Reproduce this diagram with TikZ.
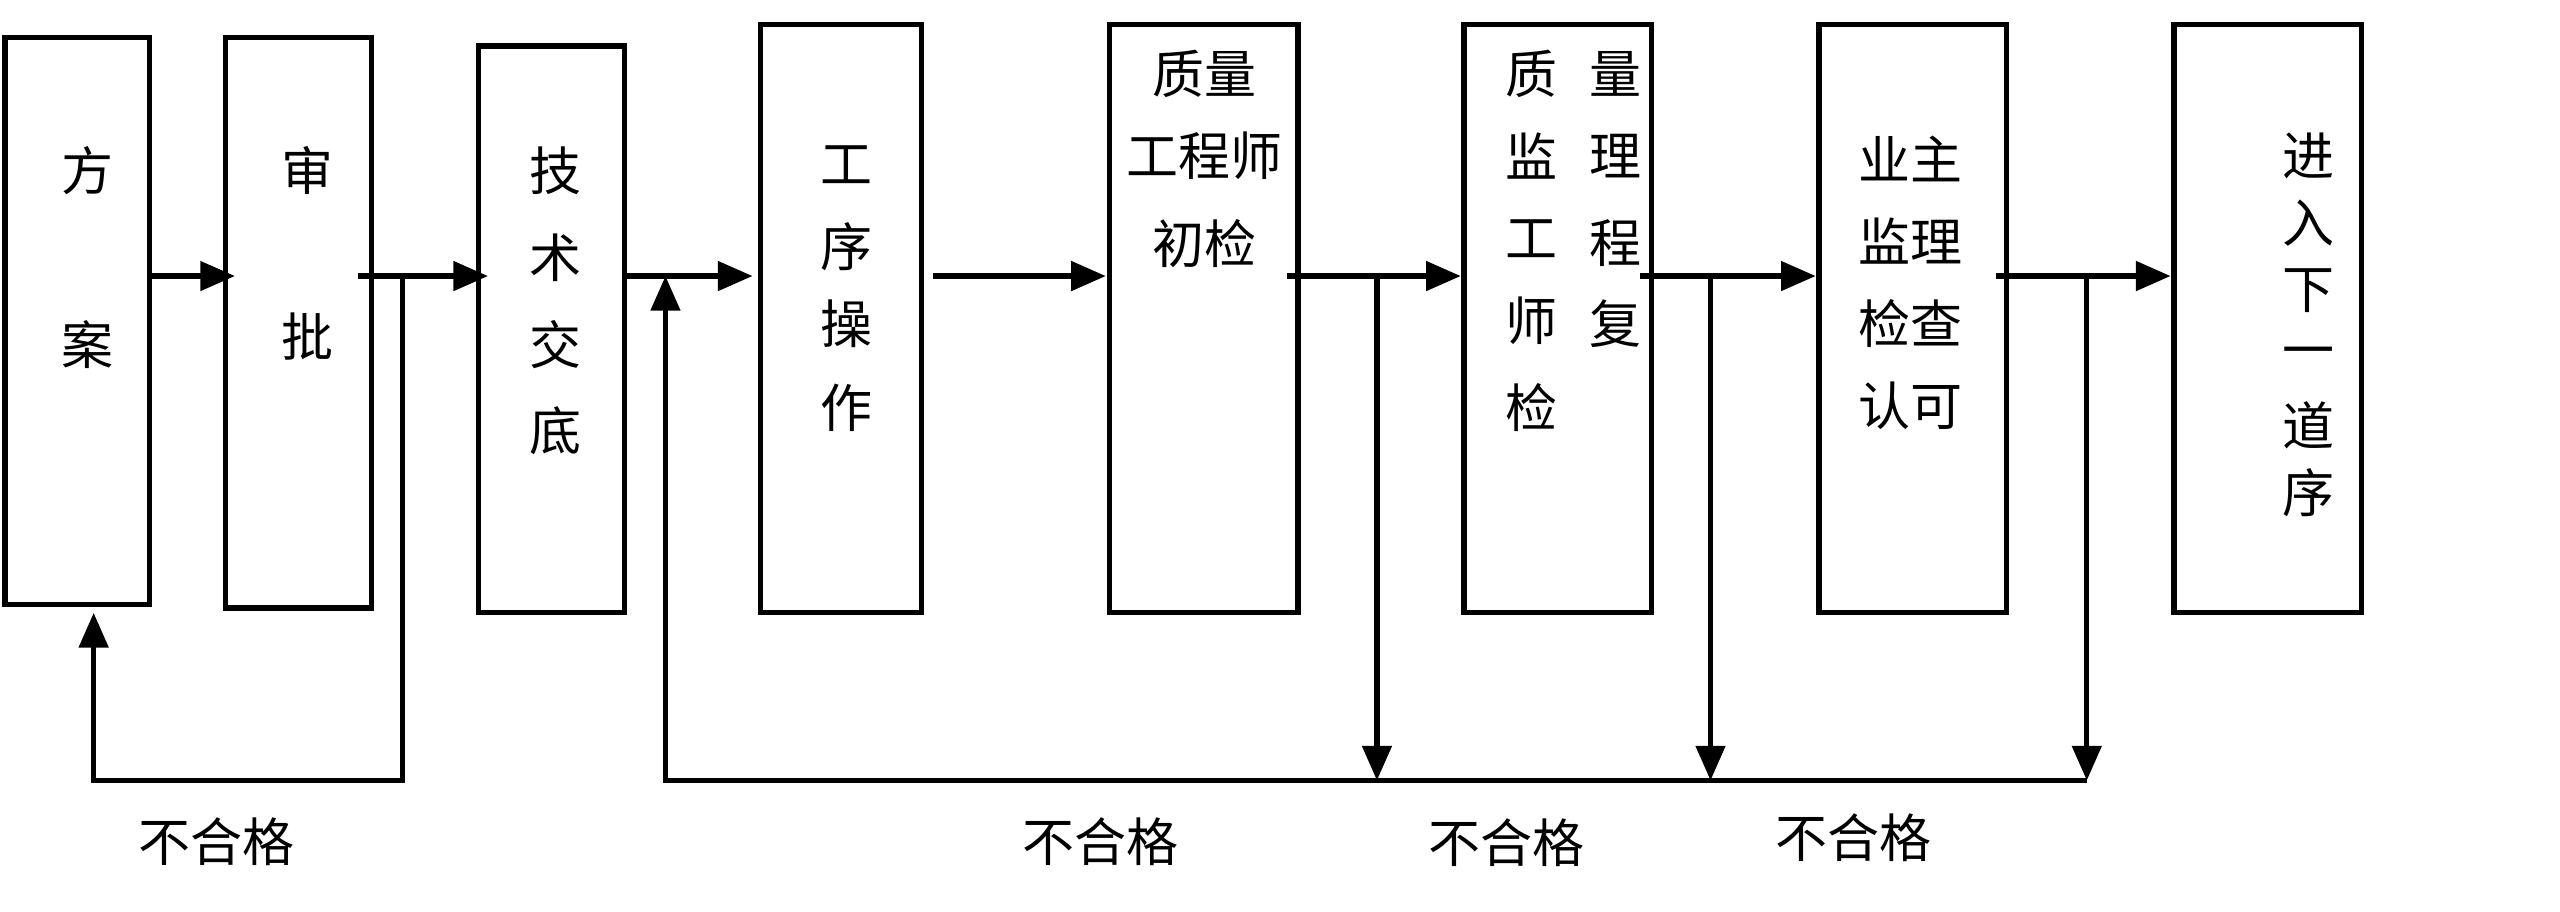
\documentclass[tikz,border=0pt]{standalone}
\usepackage{fontspec}
\setmainfont{Noto Sans CJK SC}
\usetikzlibrary{arrows.meta}
\begin{document}
\begin{tikzpicture}[x=0.01cm,y=-0.01cm,
  box/.style={draw,line width=0.9pt,minimum width=0,anchor=north west},
  t/.style={font=\fontsize{9pt}{10pt}\selectfont,inner sep=0},
  ln/.style={line width=0.9pt},
  ar/.style={line width=0.9pt,-{Triangle[length=6pt,width=5pt]}}]
\useasboundingbox (0,0) rectangle (1558,555);
\draw[ln] (3,23) rectangle (91,368) coordinate (b1);
\draw[ln] (137,23) rectangle (226,370);
\draw[ln] (291,28) rectangle (380,373);
\draw[ln] (463,15) rectangle (561,373);
\draw[ln] (675,15) rectangle (790,373);
\draw[ln] (891,15) rectangle (1005,373);
\draw[ln] (1107,15) rectangle (1221,373);
\draw[ln] (1323,15) rectangle (1437,373);
% texts
\node[t] (a1) at (53,104) {方}; \node[t] at (53,210) {案};
\node[t] at (187,104) {审}; \node[t] at (187,205) {批};
\foreach \c/\y in {技/104,术/157,交/210,底/262} \node[t] at (338,\y) {\c};
\foreach \c/\y in {工/100,序/150,操/197,作/248} \node[t] at (515,\y) {\c};
\node[t] at (733,45) {质量}; \node[t] at (733,95) {工程师}; \node[t] at (733,148) {初检};
\foreach \c/\y in {质/45,监/95,工/145,师/195,检/248} \node[t] at (932,\y) {\c};
\foreach \c/\y in {量/45,理/95,程/148,复/197} \node[t] at (983,\y) {\c};
\node[t] at (1163,97) {业主}; \node[t] at (1163,147) {监理};
\node[t] at (1163,197) {检查}; \node[t] at (1163,247) {认可};
\foreach \c/\y in {进/95,入/136,下/177,一/218,道/259,工/300,序/300} {}
\foreach \c/\y in {进/95,入/136,下/177,一/218,道/259} \node[t] at (1405,\y) {\c};
\node[t] at (1405,300) {序}; \node[t] at (1405,300) {}; 
% connectors
\coordinate (p1) at (91,168); \coordinate (q1) at (143,168);
\draw[ar] (91,168) -- (143,168);
\draw[ar] (218,168) -- (297,168);
\draw[ar] (380,168) -- (458,168);
\draw[ar] (568,168) -- (673,168);
\draw[ar] (783,168) -- (889,168);
\draw[ar] (998,168) -- (1105,168);
\draw[ar] (1215,168) -- (1321,168);
\draw[ar] (245,168) -- (245,475) -- (57,475) -- (57,373);
\draw[ar] (1270,475) -- (405,475) -- (405,168);
\draw[ar] (838,168) -- (838,475);
\draw[ar] (1041,168) -- (1041,475);
\draw[ar] (1270,168) -- (1270,475);
\node[t] at (132,512) {不合格};
\node[t] at (670,512) {不合格};
\node[t] at (917,513) {不合格};
\node[t] at (1128,510) {不合格};
\end{tikzpicture}
\end{document}
